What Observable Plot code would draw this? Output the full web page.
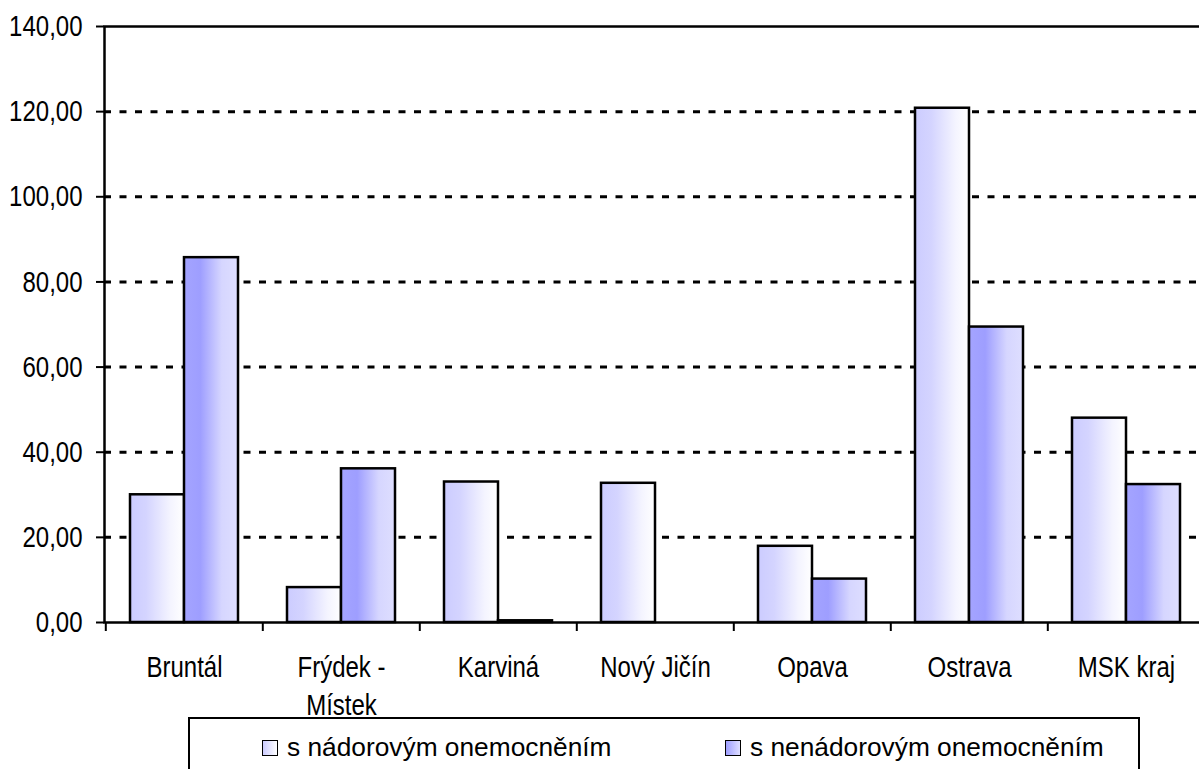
<!DOCTYPE html>
<html>
<head>
<meta charset="utf-8">
<script src="https://cdn.jsdelivr.net/npm/d3@7"></script>
<script src="https://cdn.jsdelivr.net/npm/@observablehq/plot@0.6"></script>
<style>
  html, body { margin: 0; padding: 0; background: #fff; overflow: hidden; }
  #wrap { position: relative; width: 1199px; height: 769px; }
  .f { font-family: "Liberation Sans", Arial, sans-serif; }
  #legend {
    position: absolute; left: 188px; top: 717px; width: 952px; height: 70px;
    border: 2px solid #000; box-sizing: border-box; background: #fff;
    font-size: 26.3px; color: #000;
  }
  .item { position: absolute; top: 13px; display: flex; align-items: center; white-space: nowrap; }
  .sw { width: 14px; height: 14px; border: 1.5px solid #000; margin-right: 9px; }
</style>
</head>
<body>
<div id="wrap" class="f"></div>
<script>
const categories = ["Bruntál", "Frýdek - Místek", "Karviná", "Nový Jičín", "Opava", "Ostrava", "MSK kraj"];
const categoryLabels = ["Bruntál", "Frýdek -\nMístek", "Karviná", "Nový Jičín", "Opava", "Ostrava", "MSK kraj"];
const seriesNames = ["s nádorovým onemocněním", "s nenádorovým onemocněním"];
const nadorove = [30.0, 8.2, 33.0, 32.7, 17.9, 120.8, 48.0];
const nenadorove = [85.7, 36.1, 0.4, 0, 10.2, 69.4, 32.4];
const yTicks = [0, 20, 40, 60, 80, 100, 120, 140];

const rows1 = categories.map((c, i) => ({category: c, value: nadorove[i]}));
const rows2 = categories.map((c, i) => ({category: c, value: nenadorove[i]}));
const labelRows = categories.map((c, i) => ({category: c, label: categoryLabels[i]}));

const fmt = v => v.toFixed(2).replace(".", ",");
const FONT = '"Liberation Sans", Arial, sans-serif';

const chart = Plot.plot({
  width: 1199,
  height: 769,
  marginLeft: 104,
  marginRight: -7,
  marginTop: 26,
  marginBottom: 147,
  style: {fontFamily: FONT, fontSize: "30px", color: "#000", background: "#fff", overflow: "hidden"},
  x: {type: "band", domain: categories, paddingInner: 0.314, paddingOuter: 0.157, axis: null},
  y: {domain: [0, 140], axis: null},
  marks: [
    Plot.gridY(yTicks.filter(t => t > 0 && t < 140), {stroke: "#000", strokeOpacity: 1, strokeWidth: 3, strokeDasharray: "7,8.5"}),
    Plot.barY(rows1, {x: "category", y: "value", fill: "url(#g1)", stroke: "#000", strokeWidth: 2.5, insetRight: 54}),
    Plot.barY(rows2, {x: "category", y: "value", fill: "url(#g2)", stroke: "#000", strokeWidth: 2.5, insetLeft: 54}),
    Plot.frame({stroke: "#000", strokeWidth: 2.5}),
    Plot.axisY(yTicks, {tickSize: 8, tickPadding: 14, tickFormat: fmt, strokeWidth: 2, fontSize: 30, fill: "#000", label: null, className: "cond"}),
    Plot.ruleX(categories, {x: d => d, y1: 0, y2: 0, dx: -78.7, stroke: "#000", strokeWidth: 2, insetBottom: -9}),
    Plot.text(labelRows, {x: "category", y: () => 0, text: "label", dy: 27, lineAnchor: "top", lineHeight: 1.27, fontSize: 30, fill: "#000", className: "cond"})
  ]
});

// horizontally condense the axis and category labels (narrow face of the original)
chart.querySelectorAll(".cond text").forEach(t => {
  const tr = t.getAttribute("transform") || "";
  t.setAttribute("transform", (tr + " scale(0.8,1)").trim());
});

const ns = "http://www.w3.org/2000/svg";
const defs = document.createElementNS(ns, "defs");
function grad(id, stops) {
  const g = document.createElementNS(ns, "linearGradient");
  g.setAttribute("id", id);
  g.setAttribute("x1", "0"); g.setAttribute("x2", "1"); g.setAttribute("y1", "0"); g.setAttribute("y2", "0");
  for (const [o, c] of stops) {
    const s = document.createElementNS(ns, "stop");
    s.setAttribute("offset", o); s.setAttribute("stop-color", c);
    g.appendChild(s);
  }
  defs.appendChild(g);
}
grad("g1", [[0, "#ccccff"], [0.3, "#d4d4ff"], [0.75, "#f4f4ff"], [1, "#ffffff"]]);
grad("g2", [[0, "#a4a4ff"], [0.3, "#9e9eff"], [0.7, "#d6d6ff"], [1, "#dedeff"]]);
chart.insertBefore(defs, chart.firstChild);

const wrap = document.getElementById("wrap");
wrap.appendChild(chart);

const legend = document.createElement("div");
legend.id = "legend";
const lefts = [72, 535];
const bgs = ["linear-gradient(to right, #ccccff, #ffffff)", "linear-gradient(to right, #9e9eff, #dedeff)"];
seriesNames.forEach((name, i) => {
  const it = document.createElement("div");
  it.className = "item";
  it.style.left = lefts[i] + "px";
  const sw = document.createElement("div");
  sw.className = "sw";
  sw.style.background = bgs[i];
  const t = document.createElement("span");
  t.textContent = name;
  it.appendChild(sw); it.appendChild(t);
  legend.appendChild(it);
});
wrap.appendChild(legend);
</script>
</body>
</html>
